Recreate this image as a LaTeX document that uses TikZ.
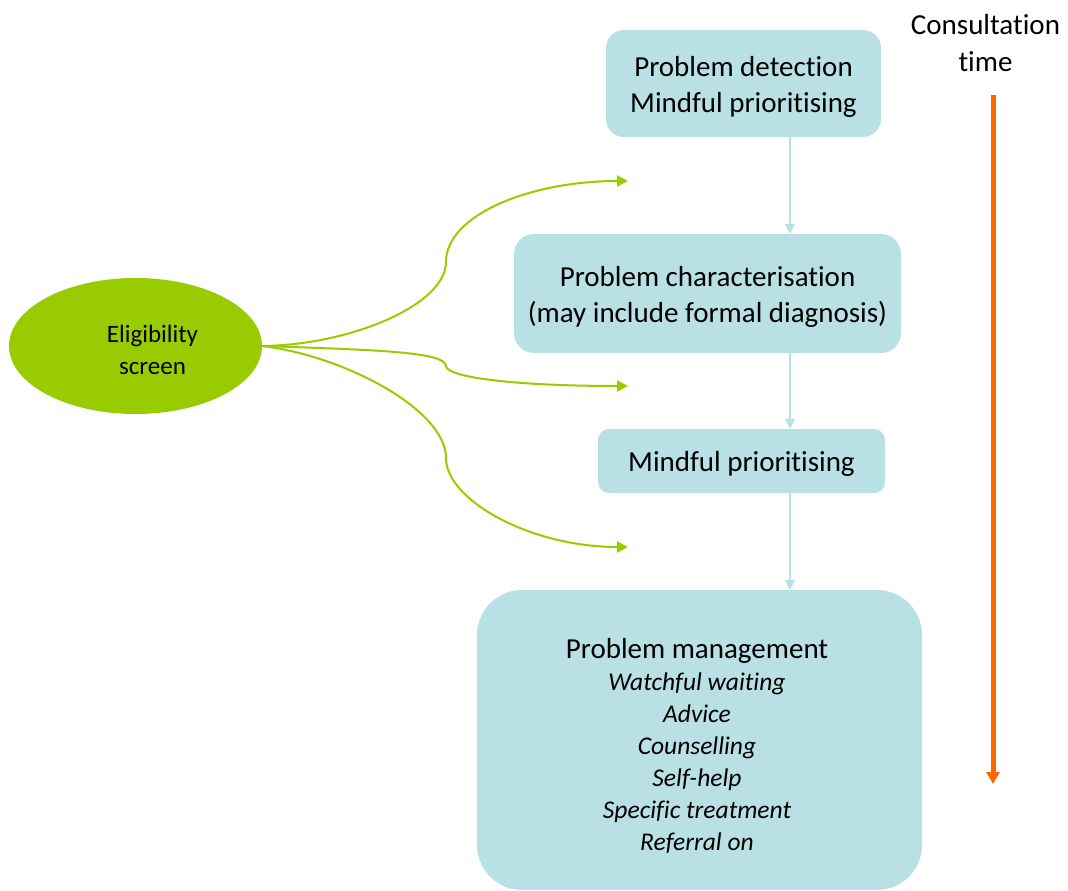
\documentclass[tikz,border=0pt]{standalone}
\usepackage{fontspec}
\setmainfont{Carlito}[Ligatures=NoCommon, RawFeature={-liga;-clig;-calt;-dlig}]
\usetikzlibrary{shapes.geometric,arrows.meta}

\definecolor{stagefill}{RGB}{185,224,228}
\definecolor{leafgreen}{RGB}{153,204,0}
\definecolor{timeorange}{RGB}{255,102,0}

% centred lines, set a little below the middle of their box
\newcommand{\stagelines}[1]{\raisebox{-3.5pt}[\height][\depth]{%
  \begin{tabular}{@{}c@{}}#1\end{tabular}}}

\begin{document}
\begin{tikzpicture}[x=1pt,y=-1pt,
  stage/.style={fill=stagefill, draw=none, align=center, inner sep=0pt,
    font=\fontsize{29}{36}\selectfont},
  flow/.style={draw=stagefill, line width=2pt,
    -{Triangle[length=10pt,width=10pt]}},
  branch/.style={draw=leafgreen, line width=2pt,
    -{Triangle[length=11pt,width=11pt]}},
  timeline/.style={draw=timeorange, line width=5pt,
    -{Triangle[length=12pt,width=13pt]}},
  smalltext/.style={align=center, inner sep=0pt,
    font=\fontsize{25}{32}\selectfont},
]
\useasboundingbox (0,0) rectangle (1068,891);
\clip (0,0) rectangle (1068,891);

% stages of the consultation
\node[stage, minimum width=275pt, minimum height=107pt, rounded corners=18pt]
  (detect) at (743.5,83.5) {\stagelines{Problem detection\\Mindful prioritising}};
\node[stage, minimum width=387pt, minimum height=119pt, rounded corners=20pt]
  (character) at (707.5,293.5)
  {\stagelines{Problem characterisation\\(may include formal diagnosis)}};
\node[stage, minimum width=287pt, minimum height=64pt, rounded corners=11pt]
  (prioritise) at (741.5,461) {\stagelines{Mindful prioritising}};
\node[stage, minimum width=445pt, minimum height=300pt, rounded corners=45pt]
  (manage) at (699.5,740) {};
\node[align=center, inner sep=0pt, font=\fontsize{25.5}{32}\selectfont]
  (manage-text) at (697,746)
  {{\fontsize{29}{33}\selectfont Problem management}\\
   \itshape Watchful waiting\\ \itshape Advice\\ \itshape Counselling\\
   \itshape Self-help\\ \itshape Specific treatment\\ \itshape Referral on};

% links between the stages
\coordinate (spine) at (790,0);
\draw[flow] (detect.south -| spine) -- (character.north -| spine);
\draw[flow] (character.south -| spine) -- (prioritise.north -| spine);
\draw[flow] (prioritise.south -| spine) -- (manage.north -| spine);

% eligibility screen and its branches
\node[ellipse, fill=leafgreen, draw=none, minimum width=253pt, minimum height=136pt,
  inner sep=0pt] (elig) at (135.5,346) {};
\node[smalltext] (elig-text) at (152.5,350) {Eligibility\\screen};

\coordinate (tip-a) at (628,181);
\coordinate (tip-b) at (628,386);
\coordinate (tip-c) at (628,547);

\draw[branch] (elig.east) .. controls (350,345) and (446,305) .. (446,262)
  .. controls (446,215) and (530,181) .. (tip-a);
\draw[branch] (elig.east) .. controls (380,350) and (445,352) .. (446,366)
  .. controls (447,378) and (520,386) .. (tip-b);
\draw[branch] (elig.east) .. controls (345,356) and (446,410) .. (446,458)
  .. controls (446,500) and (530,547) .. (tip-c);

% consultation time axis
\node[align=center, inner sep=0pt, font=\fontsize{29}{37}\selectfont]
  (time-label) at (985.5,43) {Consultation\\time};
\coordinate (time-start) at (993,95);
\coordinate (time-end) at (993,784);
\draw[timeline] (time-start) -- (time-end);
\end{tikzpicture}
\end{document}
